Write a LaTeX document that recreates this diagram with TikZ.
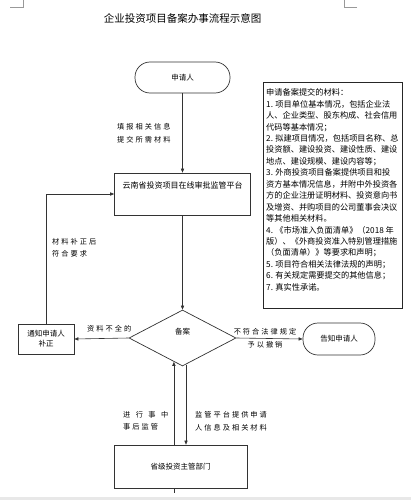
\documentclass[tikz,border=0pt]{standalone}
\usepackage{fontspec}
\setmainfont{Noto Sans CJK SC}
\newfontfamily\spfont[LetterSpace=28]{Noto Sans CJK SC}
\usetikzlibrary{shapes.geometric,arrows.meta,calc}
\begin{document}
\begin{tikzpicture}[x=1pt,y=-1pt,
  line/.style={draw=black!80, line width=0.6pt},
  arr/.style={line, -{Triangle[length=4pt,width=3.2pt]}},
  box/.style={draw=black!80, line width=0.7pt, fill=white, inner sep=0pt},
  ntext/.style={font=\fontsize{7.5}{10}\selectfont, align=center},
  lbl/.style={font=\spfont\fontsize{7.2}{13}\selectfont, align=left, inner sep=0pt, anchor=west},
]
\useasboundingbox (0,0) rectangle (411,500);
\fill[black!9] (0,497) rectangle (411,500);
\draw[black!40, line width=0.5pt] (10,7) -- (23,7) -- (23,0);
\draw[black!40, line width=0.5pt] (357,7) -- (344,7) -- (344,0);

% title
\node[font=\fontsize{10.5}{12}\selectfont] (title) at (182.5,18) {企业投资项目备案办事流程示意图};

% main column
\node[box, rounded corners=15pt, minimum width=95pt, minimum height=31pt, ntext] (start) at (182.5,77.5) {申请人};
\node[box, minimum width=136pt, minimum height=42pt] (plat) at (182.5,194) {};
\node[font=\fontsize{8}{10}\selectfont, inner sep=0pt] (plattxt) at (182.5,185) {云南省投资项目在线审批监管平台};
\node[box, diamond, minimum width=107pt, minimum height=56pt] (dia) at (182.5,338) {};
\node[ntext, inner sep=0pt] (diatxt) at (182.5,332) {备案};

\node[box, minimum width=56pt, minimum height=30pt, ntext] (notify) at (46,339) {通知申请人\\补正};
\node[box, rounded corners=15pt, minimum width=72pt, minimum height=32pt, ntext] (inform) at (339,339) {告知申请人};

\coordinate (dl) at ($(dia.south)!0.16!(dia.west)$);
\coordinate (dr) at ($(dia.south)!0.065!(dia.east)$);

\node[box, minimum width=133pt, minimum height=43pt, ntext] (prov) at (180.5,466.5) {省级投资主管部门};

% connectors
\draw[arr] (start.south) -- (plat.north);
\draw[arr] (plat.south) -- (dia.north);
\draw[arr] (dia.west) -- (notify.east);
\draw[arr] (notify.north) |- (plat.west);
\draw[arr] (dia.east) -- (inform.west);
\draw[arr] (dl |- prov.north) -- (dl);
\draw[line] (dl |- prov.south) -- ++(0,5);
\draw[arr] (dr) -- (dr |- prov.north);

% labels
\node[lbl] (l1) at (117,133.5) {填报相关信息\\提交所需材料};
\node[lbl, font=\spfont\fontsize{7.2}{12}\selectfont] (l2) at (52,248) {材料补正后\\符合要求};
\node[lbl] (l3) at (87,329) {资料不全的};
\node[lbl, anchor=center, align=center] (l4) at (265,338.5) {不符合法律规定\\予以撤销};
\node[lbl, font=\spfont\fontsize{7.2}{12}\selectfont] (l5) at (123,421) {\makebox[45pt][s]{进\hfill 行\hfill 事\hfill 中}\\事后监管};
\node[lbl] (l6) at (195,421.5) {监管平台提供申请\\人信息及相关材料};

% materials box
\node[draw=black!85, line width=0.8pt, minimum width=139pt, minimum height=226pt, anchor=north west, inner sep=0pt] (mat) at (263,82) {};
\node[anchor=north west, font=\fontsize{8.2}{11.45}\selectfont, align=left, inner sep=0pt] (mattxt) at (266,88.5) {%
申请备案提交的材料：\\
1. 项目单位基本情况，包括企业法\\
人、企业类型、股东构成、社会信用\\
代码等基本情况；\\
2. 拟建项目情况，包括项目名称、总\\
投资额、建设投资、建设性质、建设\\
地点、建设规模、建设内容等；\\
3. 外商投资项目备案提供项目和投\\
资方基本情况信息，并附中外投资各\\
方的企业注册证明材料、投资意向书\\
及增资、并购项目的公司董事会决议\\
等其他相关材料。\\
4. 《市场准入负面清单》（2018 年\\
版）、《外商投资准入特别管理措施\\
（负面清单）》等要求和声明；\\
5. 项目符合相关法律法规的声明；\\
6. 有关规定需要提交的其他信息；\\
7. 真实性承诺。};
\end{tikzpicture}
\end{document}
